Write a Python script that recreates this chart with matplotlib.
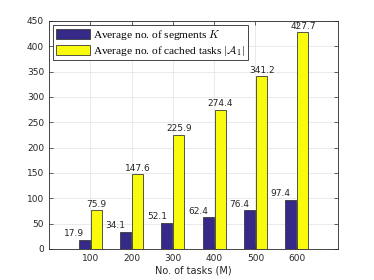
import numpy as np
import matplotlib
matplotlib.use('Agg')
from matplotlib import pyplot as plt

plt.rcParams['mathtext.fontset'] = 'cm'

tasks = ['100', '200', '300', '400', '500', '600']
avg_segments = [17.9, 34.1, 52.1, 62.4, 76.4, 97.4]
avg_cached = [75.9, 147.6, 225.9, 274.4, 341.2, 427.7]

fig = plt.figure(figsize=(3.74, 2.8), dpi=100)
ax = fig.add_axes([0.131, 0.111, 0.773, 0.814])

x = np.arange(1, len(tasks) + 1)
w = 0.27
ax.bar(x - 0.145, avg_segments, w, color='#352a87', edgecolor='#3a3a3a', linewidth=0.6,
       label=r'Average no. of segments $K$', zorder=3)
ax.bar(x + 0.145, avg_cached, w, color='#f9fb0e', edgecolor='#3a3a3a', linewidth=0.6,
       label=r'Average no. of cached tasks $|\mathcal{A}_1|$', zorder=3)

for xi, v in zip(x, avg_segments):
    ax.text(xi - 0.39, v + 3, '{:.1f}'.format(v), ha='center', va='bottom', fontsize=6.5, color='#262626')
for xi, v in zip(x, avg_cached):
    ax.text(xi + 0.15, v + 3, '{:.1f}'.format(v), ha='center', va='bottom', fontsize=6.5, color='#262626')

ax.set_xlim(0, 7)
ax.set_ylim(0, 450)
ax.set_xticks(x)
ax.set_xticklabels(tasks)
ax.set_yticks(np.arange(0, 451, 50))
ax.tick_params(direction='in', top=True, right=True, labelsize=6.5, colors='#262626', length=3, width=0.5)
ax.grid(True, color='#e6e6e6', linewidth=0.6, zorder=0)
for s in ax.spines.values():
    s.set_color('#262626')
    s.set_linewidth(0.6)
ax.set_xlabel('No. of tasks (M)', fontsize=7, color='#262626', labelpad=2)

leg = ax.legend(loc='upper left', prop={'family': 'Liberation Serif', 'size': 8.2}, fancybox=False,
                edgecolor='#262626', framealpha=1, borderpad=0.25, handlelength=3.0, handleheight=1.0,
                labelspacing=0.15, handletextpad=0.3, borderaxespad=0.35)
leg.get_frame().set_linewidth(0.6)

fig.savefig('out.png', dpi=100)
